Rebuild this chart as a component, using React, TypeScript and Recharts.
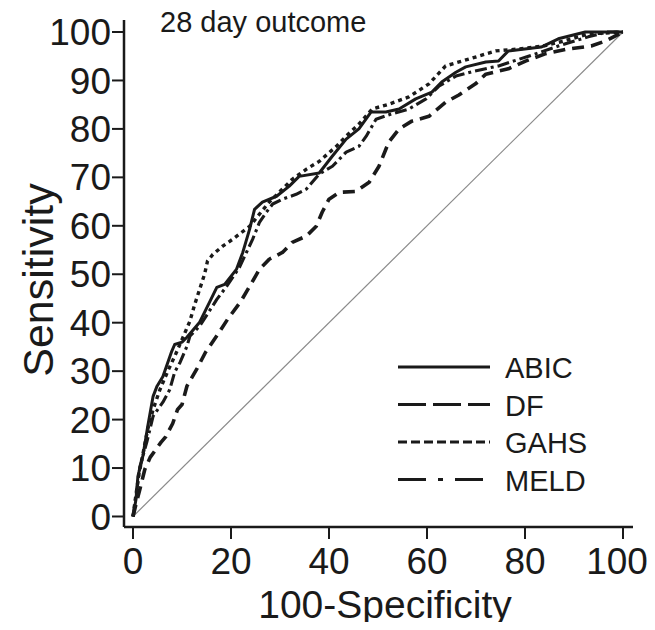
import React from "react";
import { LineChart, Line, XAxis, YAxis, Legend, Label } from "recharts";

// 100-Specificity (x) and Sensitivity (y) for each ROC curve
const abicFpr = [0, 0.6, 1.0, 2.0, 3.0, 4.1, 4.9, 6.1, 7.9, 8.5, 10.0, 11.0, 13.6, 15.7, 17.1, 18.7, 21.1, 22.4, 23.8, 24.8, 26.4, 29.3, 31.9, 33.9, 38.0, 40.7, 43.5, 46.1, 48.6, 51.6, 54.3, 57.7, 61.0, 63.0, 65.9, 67.9, 72.0, 74.6, 76.6, 83.3, 86.8, 92.3, 100];
const abicTpr = [0, 3.5, 8.3, 12.4, 18.6, 24.8, 26.9, 28.9, 34.1, 35.5, 36.0, 37.0, 40.1, 44.4, 47.3, 47.9, 51.0, 54.5, 59.3, 63.4, 64.9, 66.1, 68.2, 70.2, 70.9, 74.4, 77.9, 80.0, 83.5, 83.5, 84.1, 86.2, 87.6, 89.7, 91.7, 92.8, 93.8, 94.0, 96.1, 96.9, 98.6, 100, 100];

const dfFpr = [0, 0.6, 1.4, 2.4, 3.5, 5.7, 6.7, 8.1, 9.1, 10.0, 11.0, 13.0, 14.8, 17.3, 19.3, 22.0, 23.8, 25.8, 27.8, 30.5, 32.5, 35.4, 37.4, 38.6, 40.0, 42.1, 45.5, 48.2, 50.2, 52.2, 54.3, 56.9, 60.4, 63.8, 66.5, 69.9, 72.0, 76.6, 80.1, 84.1, 88.8, 93.5, 96.3, 100];
const dfTpr = [0, 2.5, 5.6, 9.7, 12.2, 15.3, 16.5, 19.2, 22.1, 23.1, 26.9, 30.4, 33.9, 37.6, 40.7, 44.4, 47.5, 51.0, 53.1, 54.5, 56.6, 57.9, 59.9, 62.8, 65.5, 66.9, 67.1, 69.0, 72.3, 77.3, 80.0, 81.6, 82.6, 85.5, 87.0, 89.3, 91.3, 92.4, 94.0, 95.5, 96.5, 97.1, 98.1, 100];

const gahsFpr = [0, 0.6, 1.2, 2.0, 3.0, 4.1, 5.5, 7.1, 8.7, 10.2, 11.6, 12.6, 13.6, 14.6, 15.2, 16.3, 18.3, 20.3, 23.8, 25.8, 27.8, 30.5, 32.5, 35.4, 38.0, 41.5, 43.5, 46.1, 48.8, 52.2, 56.3, 60.4, 63.8, 68.5, 74.0, 78.7, 83.7, 87.8, 92.9, 100];
const gahsTpr = [0, 4.5, 8.7, 12.8, 18.0, 22.1, 26.2, 30.0, 33.5, 37.0, 40.3, 43.8, 46.9, 50.0, 52.7, 54.1, 55.8, 57.2, 59.9, 62.4, 64.9, 67.6, 69.6, 71.7, 73.3, 76.4, 78.5, 81.0, 84.1, 85.1, 86.6, 89.3, 93.0, 94.4, 96.1, 96.5, 97.1, 98.1, 99.6, 100];

const meldFpr = [0, 0.8, 1.4, 2.8, 4.1, 6.1, 7.5, 8.5, 9.6, 11.0, 11.6, 13.6, 17.1, 19.1, 21.7, 24.4, 25.8, 27.2, 28.5, 30.5, 33.3, 35.4, 38.0, 40.7, 43.5, 46.1, 47.6, 49.6, 52.8, 56.3, 59.8, 62.4, 65.9, 69.5, 74.6, 80.7, 86.8, 92.9, 96.9, 100];
const meldTpr = [0, 5.6, 10.3, 15.3, 20.7, 23.6, 26.2, 29.8, 31.8, 35.1, 37.2, 39.3, 44.8, 47.5, 51.4, 57.2, 60.7, 62.8, 64.5, 65.5, 66.5, 67.6, 70.7, 72.3, 75.2, 76.4, 78.5, 82.0, 83.1, 84.1, 86.2, 88.8, 90.9, 91.9, 93.0, 95.0, 97.1, 99.0, 100, 100];

const refFpr = [0, 100];
const refTpr = [0, 100];

const xTicks = [0, 20, 40, 60, 80, 100];
const yTicks = [0, 10, 20, 30, 40, 50, 60, 70, 80, 90, 100];
const seriesNames = ["ABIC", "DF", "GAHS", "MELD"];

const toData = (xs: number[], ys: number[]) => xs.map((x, i) => ({ x, y: ys[i] }));

const FONT = "'Liberation Sans', Arial, Helvetica, sans-serif";
const INK = "#1a1a1a";

const styles: Record<string, { dash?: string; width: number }> = {
  ABIC: { width: 3 },
  DF: { dash: "12 7", width: 3.6 },
  GAHS: { dash: "4 4", width: 3.4 },
  MELD: { dash: "12 4 3 4", width: 3.1 },
};

const legendDash: Record<string, string | undefined> = {
  ABIC: undefined,
  DF: "28 7",
  GAHS: "9 4",
  MELD: "28 12 5 12",
};

const LegendContent = () => (
  <svg width={260} height={150} style={{ display: "block" }}>
    {seriesNames.map((n, i) => {
      const y = 22 + i * 37.5;
      return (
        <g key={n}>
          <line x1={8} x2={100} y1={y} y2={y} stroke={INK} strokeWidth={3} strokeDasharray={legendDash[n]} />
          <text x={115} y={y + 11} fontSize={29} fontFamily={FONT} fill={INK}>
            {n}
          </text>
        </g>
      );
    })}
  </svg>
);

const XTick = (props: any) => {
  const { x, y, payload } = props;
  const shift = payload.value === 100 ? -6 : 0;
  return (
    <text x={x + shift} y={y} dy="0.71em" textAnchor="middle" fontSize={37} fontFamily={FONT} fill={INK}>
      {payload.value}
    </text>
  );
};

export default function App() {
  return (
    <div style={{ position: "relative", width: 655, height: 630, margin: -8, background: "#fff", overflow: "hidden" }}>
      <LineChart width={655} height={630} margin={{ top: 20, right: 22, left: 0, bottom: 0 }}>
        <XAxis
          type="number"
          dataKey="x"
          domain={[-1.84, 102.04]}
          allowDataOverflow
          ticks={xTicks}
          interval={0}
          height={103}
          tickSize={12}
          tickMargin={9}
          axisLine={{ stroke: INK, strokeWidth: 2.5 }}
          tickLine={{ stroke: INK, strokeWidth: 2 }}
          tick={<XTick />}
        >
          <Label
            content={() => (
              <text x={385} y={618} textAnchor="middle" fontSize={39} fontFamily={FONT} fill={INK}>
                100-Specificity
              </text>
            )}
          />
        </XAxis>
        <YAxis
          type="number"
          dataKey="y"
          domain={[-2.17, 102.48]}
          allowDataOverflow
          ticks={yTicks}
          interval={0}
          width={124}
          tickSize={12}
          tickMargin={1}
          axisLine={{ stroke: INK, strokeWidth: 2.5 }}
          tickLine={{ stroke: INK, strokeWidth: 2 }}
          tick={{ fontSize: 37, fill: INK, fontFamily: FONT }}
        >
          <Label
            content={() => (
              <text
                x={53}
                y={280}
                transform="rotate(-90 53 280)"
                textAnchor="middle"
                fontSize={43}
                fontFamily={FONT}
                fill={INK}
              >
                Sensitivity
              </text>
            )}
          />
        </YAxis>
        <Line
          data={toData(refFpr, refTpr)}
          dataKey="y"
          type="linear"
          stroke="#8a8a8a"
          strokeWidth={1.2}
          dot={false}
          legendType="none"
          isAnimationActive={false}
        />
        {[
          ["ABIC", abicFpr, abicTpr],
          ["DF", dfFpr, dfTpr],
          ["GAHS", gahsFpr, gahsTpr],
          ["MELD", meldFpr, meldTpr],
        ].map(([name, xs, ys]) => (
          <Line
            key={name as string}
            name={name as string}
            data={toData(xs as number[], ys as number[])}
            dataKey="y"
            type="linear"
            stroke={INK}
            strokeWidth={styles[name as string].width}
            strokeDasharray={styles[name as string].dash}
            strokeLinejoin="round"
            dot={false}
            isAnimationActive={false}
          />
        ))}
        <Legend
          layout="horizontal"
          align="center"
          verticalAlign="middle"
          content={LegendContent}
          wrapperStyle={{ position: "absolute", left: 390, top: 345, width: 260, height: 150 }}
        />
      </LineChart>
      <div
        style={{
          position: "absolute",
          left: 160,
          top: 6,
          fontFamily: FONT,
          fontSize: 29,
          color: INK,
          lineHeight: "32px",
          whiteSpace: "nowrap",
        }}
      >
        28 day outcome
      </div>
    </div>
  );
}
